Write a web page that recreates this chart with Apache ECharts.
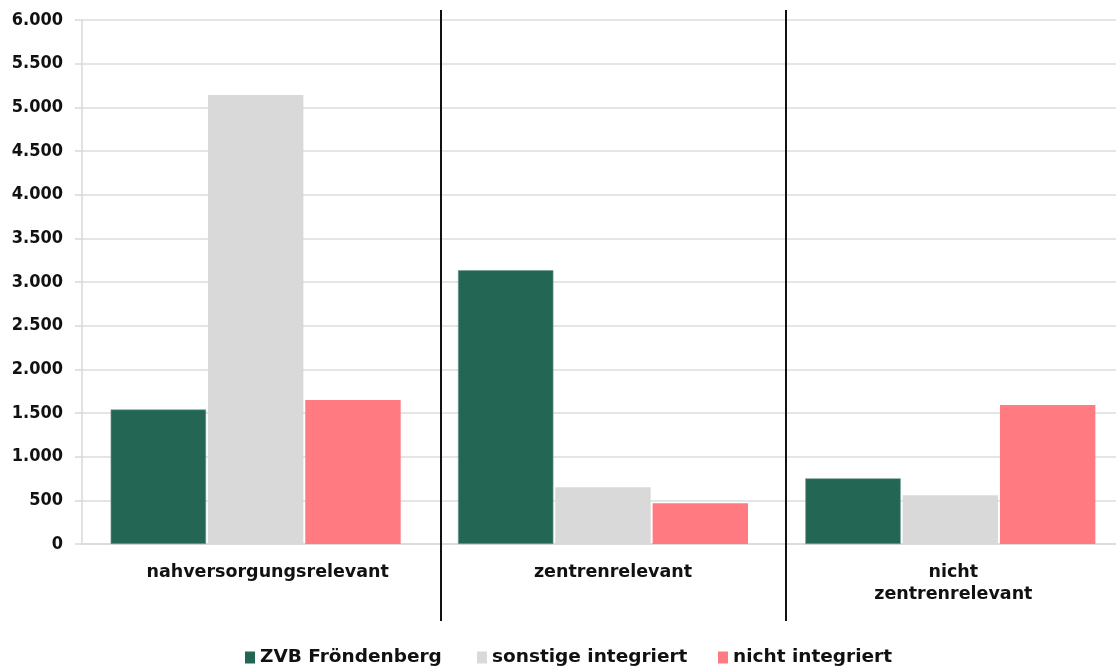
<!DOCTYPE html>
<html>
<head>
<meta charset="utf-8">
<script src="https://cdn.jsdelivr.net/npm/echarts@6/dist/echarts.min.js"></script>
<style>
html,body{margin:0;padding:0;background:#fff;}
#chart{width:1116px;height:668px;}
</style>
</head>
<body>
<div id="chart"></div>
<script>
const categories = ['nahversorgungsrelevant', 'zentrenrelevant', 'nicht\nzentrenrelevant'];
const seriesNames = ['ZVB Fröndenberg', 'sonstige integriert', 'nicht integriert'];
const zvb = [1540, 3135, 752];
const sonstige = [5140, 650, 558];
const nichtIntegriert = [1650, 466, 1592];
const yTicks = [0, 500, 1000, 1500, 2000, 2500, 3000, 3500, 4000, 4500, 5000, 5500, 6000];

const colors = ['#236654', '#d9d9d9', '#ff7b81'];
const font = 'DejaVu Sans';
const fontCond = '"DejaVu Sans Condensed", "DejaVu Sans"';
const labelShift = [24, 20, 6];
const legendLeft = [240, 472, 713];

const chart = echarts.init(document.getElementById('chart'), null, {renderer: 'canvas'});

function fmt(v) {
  return String(v).replace(/\B(?=(\d{3})+(?!\d))/g, '.');
}

const rich = {};
labelShift.forEach(function (s, i) {
  rich['c' + i] = {
    fontFamily: font, fontWeight: 'bold', fontSize: 17.5, color: '#111',
    lineHeight: 22, padding: [0, 0, 0, s]
  };
});

const legendTextStyle = {fontFamily: font, fontWeight: 'bold', fontSize: 18.5, color: '#111'};

const option = {
  animation: false,
  backgroundColor: '#ffffff',
  color: colors,
  grid: {left: 82, width: 1042, top: 20, height: 524, containLabel: false, outerBoundsMode: 'none'},
  legend: seriesNames.map(function (name, i) {
    return {
      top: 643,
      left: legendLeft[i],
      itemWidth: 10,
      itemHeight: 12,
      itemGap: 4,
      icon: 'rect',
      itemStyle: {borderWidth: 0},
      textStyle: legendTextStyle,
      data: [name]
    };
  }),
  xAxis: {
    type: 'category',
    data: categories,
    axisLine: {show: true, lineStyle: {color: '#d9d9d9', width: 1.5}},
    axisTick: {show: false},
    axisLabel: {
      margin: 17,
      interval: 0,
      formatter: function (value, index) {
        return value.split('\n').map(function (line) {
          return '{c' + index + '|' + line + '}';
        }).join('\n');
      },
      rich: rich
    }
  },
  yAxis: {
    type: 'value',
    min: yTicks[0],
    max: yTicks[yTicks.length - 1],
    interval: 500,
    axisLine: {show: true, lineStyle: {color: '#d9d9d9', width: 1.5}},
    axisTick: {show: true, length: 7, lineStyle: {color: '#d9d9d9', width: 1.5}},
    splitLine: {show: true, lineStyle: {color: '#dcdcdc', width: 1.5}},
    axisLabel: {
      margin: 19,
      fontFamily: fontCond, fontWeight: 'bold', fontSize: 18, color: '#111',
      formatter: fmt
    }
  },
  series: [
    {name: seriesNames[0], type: 'bar', data: zvb, barGap: '2%', barCategoryGap: '16.5%',
     itemStyle: {color: colors[0], borderColor: '#6f9c90', borderWidth: 0.6}},
    {name: seriesNames[1], type: 'bar', data: sonstige, barGap: '2%', barCategoryGap: '16.5%',
     itemStyle: {color: colors[1]}},
    {name: seriesNames[2], type: 'bar', data: nichtIntegriert, barGap: '2%', barCategoryGap: '16.5%',
     itemStyle: {color: colors[2]}}
  ],
  graphic: [
    {type: 'line', shape: {x1: 441, y1: 10, x2: 441, y2: 621}, style: {stroke: '#111', lineWidth: 2}, z: 100},
    {type: 'line', shape: {x1: 786, y1: 10, x2: 786, y2: 621}, style: {stroke: '#111', lineWidth: 2}, z: 100}
  ]
};
chart.setOption(option);
</script>
</body>
</html>
